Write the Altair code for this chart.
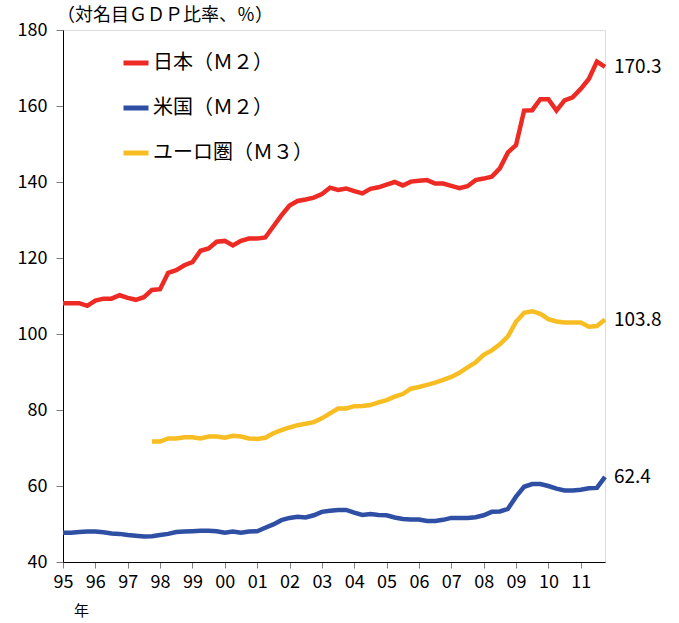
import altair as alt
import pandas as pd

# ---- data (quarterly, 1995Q1 .. 2011Q4) ----
series_names = ["日本（Ｍ２）", "米国（Ｍ２）", "ユーロ圏（Ｍ３）"]
series_colors = ["#EE2A24", "#2E4FA4", "#F7BD22"]

japan_m2 = [108.1, 108.1, 108.1, 107.4, 108.8, 109.3, 109.3, 110.2,
            109.5, 109.0, 109.7, 111.6, 111.8, 116.1, 116.8, 118.1,
            118.9, 121.9, 122.5, 124.3, 124.5, 123.3, 124.5, 125.1,
            125.1, 125.4, 128.3, 131.2, 133.8, 135.0, 135.4, 135.9,
            136.8, 138.5, 137.9, 138.3, 137.6, 137.0, 138.2, 138.6,
            139.3, 140.0, 139.1, 140.1, 140.3, 140.5, 139.6, 139.6,
            139.0, 138.4, 138.9, 140.5, 140.9, 141.4, 143.6, 147.8,
            149.7, 158.8, 158.9, 161.8, 161.8, 158.8, 161.5, 162.3,
            164.5, 167.1, 171.7, 170.3]

us_m2 = [47.7, 47.7, 47.9, 48.0, 48.0, 47.8, 47.5, 47.4,
         47.1, 46.9, 46.7, 46.8, 47.1, 47.4, 47.9, 48.0,
         48.1, 48.2, 48.2, 48.1, 47.7, 48.0, 47.7, 48.0,
         48.1, 49.0, 49.9, 51.0, 51.6, 51.9, 51.7, 52.3,
         53.2, 53.5, 53.7, 53.7, 53.0, 52.4, 52.6, 52.4,
         52.3, 51.7, 51.3, 51.2, 51.2, 50.8, 50.8, 51.1,
         51.6, 51.6, 51.6, 51.8, 52.3, 53.2, 53.3, 54.0,
         57.2, 59.8, 60.5, 60.5, 60.0, 59.3, 58.8, 58.8,
         59.0, 59.4, 59.5, 62.4]

# euro area starts 1997Q4 (quarter index 11)
euro_start = 11
euro_m3 = [71.7, 71.7, 72.5, 72.5, 72.8, 72.8, 72.5, 73.0,
           73.0, 72.7, 73.2, 73.0, 72.5, 72.4, 72.7, 73.9,
           74.7, 75.4, 76.0, 76.4, 76.8, 77.8, 79.1, 80.4,
           80.4, 81.0, 81.05, 81.3, 82.0, 82.6, 83.5, 84.2,
           85.6, 86.05, 86.6, 87.2, 87.9, 88.7, 89.8, 91.2,
           92.5, 94.5, 95.7, 97.3, 99.4, 103.2, 105.6, 106.0,
           105.3, 103.9, 103.3, 103.0, 103.0, 103.0, 101.9, 102.1,
           103.8]

tick_years = list(range(1995, 2012))
y_ticks = [40, 60, 80, 100, 120, 140, 160, 180]

rows = []
for name, vals, start in [(series_names[0], japan_m2, 0),
                          (series_names[1], us_m2, 0),
                          (series_names[2], euro_m3, euro_start)]:
    for i, v in enumerate(vals):
        rows.append({"s": name, "t": 1995 + (start + i) / 4.0, "v": v})
df = pd.DataFrame(rows)

last = df.sort_values("t").groupby("s", as_index=False).last()

FONT = "Noto Sans CJK JP"

x_enc = alt.X("t:Q",
              scale=alt.Scale(domain=[1995, 2011.75], nice=False, zero=False),
              axis=alt.Axis(values=tick_years, tickCount=20,
                            labelExpr="substring(toString(datum.value), 2, 4)",
                            labelOverlap=False,
                            title="年", titleX=18, titleY=41,
                            titleFontSize=15, titleFontWeight="normal",
                            titleFont=FONT, titleColor="#000000",
                            labelFontSize=18, labelFont=FONT,
                            labelColor="#000000", labelPadding=5,
                            tickSize=6, tickColor="#7f7f7f",
                            domainColor="#000000", grid=False,
                            labelFlush=False))
y_enc = alt.Y("v:Q",
              scale=alt.Scale(domain=[40, 180], nice=False, zero=False),
              axis=alt.Axis(values=y_ticks, title=None,
                            labelFontSize=18, labelFont=FONT,
                            labelColor="#000000", labelPadding=9,
                            tickSize=7, tickColor="#7f7f7f",
                            domainColor="#000000", grid=False))

lines = alt.Chart(df).mark_line(strokeWidth=4.5).encode(
    x=x_enc, y=y_enc,
    color=alt.Color("s:N",
                    scale=alt.Scale(domain=series_names, range=series_colors),
                    legend=alt.Legend(orient="none", legendX=58, legendY=18,
                                      title=None, symbolType="stroke",
                                      symbolSize=625, symbolStrokeWidth=5,
                                      labelFontSize=20, labelFont=FONT,
                                      labelColor="#000000", labelOffset=2,
                                      rowPadding=20)),
)

labels = alt.Chart(last).mark_text(align="left", baseline="middle", dx=9,
                                   fontSize=19, font=FONT,
                                   color="#000000").encode(
    x="t:Q", y="v:Q", text=alt.Text("v:Q", format=".1f"))

chart = alt.layer(lines, labels).properties(
    width=542, height=532,
    autosize=alt.AutoSizeParams(type="none"),
    padding={"left": 63, "top": 30, "right": 74, "bottom": 61},
    title=alt.TitleParams("（対名目ＧＤＰ比率、％）", anchor="start",
                          frame="group", fontSize=18, font=FONT,
                          fontWeight="normal", color="#000000",
                          offset=0, dx=-6, dy=4),
).configure_view(stroke="#7f7f7f", strokeWidth=1).configure(background="white")

chart.save("out.html", embed_options={"renderer": "svg", "actions": False})
